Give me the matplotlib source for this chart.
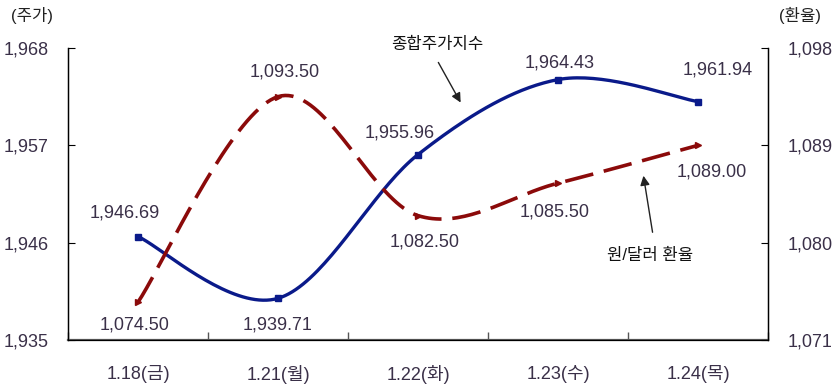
import numpy as np
import matplotlib
matplotlib.use("Agg")
import matplotlib.pyplot as plt
from matplotlib import font_manager

# 데이터
dates = ["1.18(금)", "1.21(월)", "1.22(화)", "1.23(수)", "1.24(목)"]
kospi = [1946.69, 1939.71, 1955.96, 1964.43, 1961.94]
won_usd = [1074.50, 1093.50, 1082.50, 1085.50, 1089.00]

left_ticks = [1935, 1946, 1957, 1968]
right_ticks = [1071, 1080, 1089, 1098]

names = {f.name for f in font_manager.fontManager.ttflist}
fam = [f for f in ["Liberation Sans Narrow", "Liberation Sans"] if f in names]
fam = fam[:1] + ["Noto Sans CJK KR", "DejaVu Sans"]
plt.rcParams["font.family"] = fam

txt_col = "#3a3048"
navy = "#0a1a8a"
red = "#8b0a0a"


def smooth(xs, ys, n=40):
    # Excel 스타일 곡선 (Catmull-Rom -> Bezier)
    xs = np.asarray(xs, float)
    ys = np.asarray(ys, float)
    pts = np.column_stack([xs, ys])
    out = []
    for i in range(len(pts) - 1):
        p0 = pts[max(i - 1, 0)]
        p1 = pts[i]
        p2 = pts[i + 1]
        p3 = pts[min(i + 2, len(pts) - 1)]
        c1 = p1 + (p2 - p0) / 6
        c2 = p2 - (p3 - p1) / 6
        t = np.linspace(0, 1, n)[:, None]
        seg = ((1 - t) ** 3) * p1 + 3 * ((1 - t) ** 2) * t * c1 + 3 * (1 - t) * t ** 2 * c2 + t ** 3 * p2
        out.append(seg if i == 0 else seg[1:])
    s = np.vstack(out)
    return s[:, 0], s[:, 1]


fig = plt.figure(figsize=(8.32, 3.88), dpi=100)
ax = fig.add_axes([68 / 832, 48 / 388 * 0 + (388 - 340) / 388, 700 / 832, 292 / 388])
ax2 = ax.twinx()

x = np.arange(len(dates))

sx, sy = smooth(x, kospi)
ax.plot(sx, sy, color=navy, lw=2.4, solid_capstyle="butt", zorder=3)
ax.plot(x, kospi, ls="none", marker="s", ms=5, color=navy, zorder=4)

ex, ey = smooth(x, won_usd)
ax2.plot(ex, ey, color=red, lw=2.6, dashes=(8, 3), dash_capstyle="butt", zorder=3)
ax2.plot(x, won_usd, ls="none", marker=">", ms=5, color=red, zorder=4)

ax.set_xlim(-0.5, len(dates) - 0.5)
ax.set_ylim(1935, 1968)
ax2.set_ylim(1071, 1098)

ax.set_yticks(left_ticks)
ax.set_yticklabels([f"{v:,}" for v in left_ticks])
ax2.set_yticks(right_ticks)
ax2.set_yticklabels([f"{v:,}" for v in right_ticks])

ax.set_xticks(np.arange(len(dates) + 1) - 0.5)
ax.set_xticklabels([])
ax.set_xticks(x, minor=True)
ax.set_xticklabels(dates, minor=True)
ax.tick_params(axis="x", which="major", direction="in", length=6, width=1, color="#555555")
ax.tick_params(axis="x", which="minor", length=0, pad=18, labelsize=13, labelcolor=txt_col)
ax.tick_params(axis="y", direction="in", length=5, pad=14, labelsize=13, labelcolor=txt_col)
ax2.tick_params(axis="y", direction="in", length=5, pad=14, labelsize=13, labelcolor=txt_col)

for a in (ax, ax2):
    a.spines["top"].set_visible(False)
ax.spines["bottom"].set_color("#555555")
ax.spines["bottom"].set_linewidth(1.6)
ax.spines["left"].set_linewidth(1.0)
ax2.spines["right"].set_linewidth(1.0)

# 값 라벨
kospi_pos = [(125, 213), (278, 325), (400, 133), (560, 63), (718, 70)]
won_pos = [(135, 325), (285, 72), (425, 242), (555, 212), (712, 172)]
for v, (px, py) in zip(kospi, kospi_pos):
    fig.text(px / 832, 1 - py / 388, f"{v:,.2f}", ha="center", va="center", fontsize=13, color=txt_col)
for v, (px, py) in zip(won_usd, won_pos):
    fig.text(px / 832, 1 - py / 388, f"{v:,.2f}", ha="center", va="center", fontsize=13, color=txt_col)

fig.text(32 / 832, 1 - 15 / 388, "(주가)", ha="center", va="center", fontsize=12, color="#222222")
fig.text(800 / 832, 1 - 15 / 388, "(환율)", ha="center", va="center", fontsize=12, color="#222222")

fig.text(437 / 832, 1 - 44 / 388, "종합주가지수", ha="center", va="center", fontsize=12, color="#111111")
fig.text(650 / 832, 1 - 255 / 388, "원/달러 환율", ha="center", va="center", fontsize=12, color="#111111")

ax.annotate("", xy=(462 / 832, 1 - 105 / 388), xycoords="figure fraction",
            xytext=(437 / 832, 1 - 60 / 388), textcoords="figure fraction",
            arrowprops=dict(arrowstyle="-|>", color="#222222", lw=1.0, mutation_scale=14))
ax.annotate("", xy=(643 / 832, 1 - 173 / 388), xycoords="figure fraction",
            xytext=(653 / 832, 1 - 235 / 388), textcoords="figure fraction",
            arrowprops=dict(arrowstyle="-|>", color="#222222", lw=1.0, mutation_scale=14))

fig.savefig("out.png", dpi=100)
